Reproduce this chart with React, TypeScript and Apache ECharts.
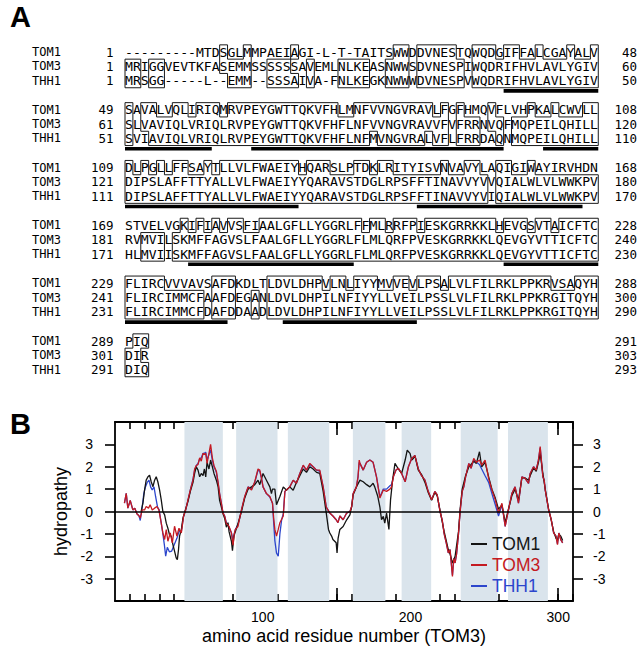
import React, { useEffect, useRef } from 'react';
import * as echarts from 'echarts';

// ---------- Panel A data ----------
const proteinNames = ['TOM1', 'TOM3', 'THH1'];

const tom1Lines = [
  '---------MTDSGLMMPAEIAGI-L-T-TAITSWWDDVNESTQWQDGIFFALCGAYALV',
  'SAVALVQLIRIQMRVPEYGWTTQKVFHLMNFVVNGVRAVLFGFHMQVFLVHPKALCWVLL',
  'DLPGLLFFSAYTLLVLFWAEIYHQARSLPTDKLRITYISVNVAVYLAQIGIWAYIRVHDN',
  'STVELVGKIFIAVVSFIAALGFLLYGGRLFFMLRRFPIESKGRRKKLHEVGSVTAICFTC',
  'FLIRCVVVAVSAFDKDLTLDVLDHPVLNLIYYMVVEVLPSALVLFILRKLPPKRVSAQYH',
  'PIQ',
];
const tom3Lines = [
  'MRIGGVEVTKFASEMMSSSSSSAVEMLNLKEASNWWSDVNESPIWQDRIFHVLAVLYGIV',
  'SLVAVIQLVRIQLRVPEYGWTTQKVFHFLNFVVNGVRAVVFVFRRNVQFMQPEILQHILL',
  'DIPSLAFFTTYALLVLFWAEIYYQARAVSTDGLRPSFFTINAVVYVVQIALWLVLWWKPV',
  'RVMVILSKMFFAGVSLFAALGFLLYGGRLFLMLQRFPVESKGRRKKLQEVGYVTTICFTC',
  'FLIRCIMMCFAAFDEGANLDVLDHPILNFIYYLLVEILPSSLVLFILRKLPPKRGITQYH',
  'DIR',
];
const thh1Lines = [
  'MRSGG-----L--EMM--SSSAIVA-FNLKEGKNWWWDVNESPVWQDRIFHVLAVLYGIV',
  'SVIAVIQLVRIQLRVPEYGWTTQKVFHFLNFMVNGVRALVFLFRRDAQNMQPEILQHILL',
  'DIPSLAFFTTYALLVLFWAEIYYQARAVSTDGLRPSFFTINAVVYVIQIALWLVLWWKPV',
  'HLMVIISKMFFAGVSLFAALGFLLYGGRLFLMLQRFPVESKGRRKKLQEVGYVTTICFTC',
  'FLIRCIMMCFDAFDDAADLDVLDHPILNFIYYLLVEILPSSLVLFILRKLPPKRGITQYH',
  'DIQ',
];
const startNums = [
  [1, 49, 109, 169, 229, 289],
  [1, 61, 121, 181, 241, 301],
  [1, 51, 111, 171, 231, 291],
];
const endNums = [
  [48, 108, 168, 228, 288, 291],
  [60, 120, 180, 240, 300, 303],
  [50, 110, 170, 230, 290, 293],
];
// underlined column runs (inclusive) per block
const underlineRuns = [
  [[48, 59]],
  [[0, 10], [16, 47], [53, 59]],
  [[0, 21], [37, 57]],
  [[8, 28], [48, 59]],
  [[0, 12], [20, 36]],
  [],
];

// ---------- Panel B data ----------
const bands = [[47, 73], [82, 110], [117, 145], [161, 183], [194, 214], [234, 259], [266, 293]];
const xMinorTicks = [10, 20, 30, 40, 50, 60, 70, 80, 90, 100, 110, 120, 130, 140, 150, 160, 170, 180, 190, 200, 210, 220, 230, 240, 250, 260, 270, 280, 290, 300, 310];
const xMajorTicks = [50, 100, 150, 200, 250, 300];
const xLabelValues = [100, 200, 300];
const yTickValues = [-3, -2, -1, 0, 1, 2, 3];

const tom1 = [
  [17.7, 0.0], [18.9, 0.37], [20, 0.96], [21.1, 1.4], [22.3, 1.55], [23.4, 1.62], [24.5, 1.33], [25.7, 1.11], [26.8, 1.4], [27.9, 1.55], [29, 1.33], [30.2, 0.96], [31.3, 0.52], [32.4, 0.0], [33.6, -0.15], [34.7, -0.52], [35.8, -0.75], [36.9, -1.04], [38.1, -1.11], [39.2, -1.48], [40.3, -1.77], [41.4, -2.07], [42.2, -2.15], [43, -1.7], [43.7, -1.1], [44.9, -0.81], [46, -0.3],
  [47.8, 0.1], [49.4, 0.45], [51, 0.9], [52.8, 1.3], [53.9, 1.7], [55, 2.0], [56.2, 1.85], [57.3, 1.55], [58.4, 1.7], [59.6, 1.6], [60.5, 1.9], [61.4, 1.55], [62.3, 2.2], [63.6, 1.9], [64.7, 2.3], [65.9, 2.0], [67, 1.7], [68.6, 1.4], [69.8, 1.1], [70.8, 0.5], [72, 0.2], [73.1, -0.1], [74.2, -0.3], [75.4, -0.7], [76.5, -0.5], [77.2, -0.9], [78.8, -1.33], [79.5, -1.75], [80.5, -1.1], [81.5, -0.9], [83.2, -0.55], [85.6, 0.0], [87.8, 0.6], [90.1, 1.0], [92.4, 1.1], [94.6, 1.2], [96.8, 1.4], [98, 1.2], [100.2, 1.7], [102.5, 1.4], [104.8, 1.1], [105.9, 0.8], [106.6, 1.0], [108.2, 1.0], [109.3, 0.3], [111.6, 0.67], [113.9, 1.1], [116.1, 0.95], [118.3, 1.1], [120.6, 0.95], [122.8, 1.3], [125.1, 1.6], [127.4, 1.9], [129.6, 1.75], [131.9, 2.0], [134.1, 1.9], [136.4, 1.75], [138.6, 1.7], [140.9, 0.9], [143, -0.07], [144.5, -0.8], [145.4, -0.96], [146.6, -1.1], [147.5, -1.25], [149.7, -1.4], [150.3, -1.85], [151, -1.2], [152.2, -0.8], [154.4, -0.67], [156.8, -0.37], [159, -0.15], [160.2, 0.22], [161.2, 0.75], [163.4, 1.1], [165.8, 1.4], [168, 1.33], [170.3, 1.2], [172.5, 1.1], [174.7, 1.26], [175.8, 1.1], [177.9, 0.67], [179.3, 0.2], [180.4, -0.37], [181.6, -0.22], [182.6, -0.52], [183.8, -0.07], [185.4, -0.8], [186.5, 0.52], [187.9, 1.4], [189.5, 2.15], [191.8, 1.9], [194, 1.7], [196.4, 2.3], [197.8, 2.74], [199.7, 2.6], [200.8, 2.3], [201.9, 2.37], [203, 2.5], [205.3, 1.85], [207.5, 1.65], [209.8, 1.3], [212, 0.85], [214.3, 0.5], [216.5, 0.85], [218.1, 0.7], [220, 0.05], [222.8, -0.9], [225.6, -1.7], [226.8, -1.9], [228.4, -2.3], [230.2, -2.0], [232.5, -0.9], [233.6, 0.1], [235, 1.0], [237.3, 1.6], [239.5, 2.0], [241, 2.1], [242.8, 2.25], [244.6, 2.15], [246.7, 2.67], [248.2, 2.0], [250.5, 2.2], [252.9, 1.55], [255.1, 1.0], [257.4, 0.6], [259.6, 0.1], [261.9, 0.3], [264.1, -0.5], [266.3, 0.1], [268.6, 0.7], [270.8, 1.0], [273.1, 0.5], [275.4, 1.5], [277.6, 1.5], [279.9, 1.4], [281, 1.6], [283.3, 1.95], [285.1, 1.8], [286.6, 2.2], [287.8, 2.6], [289.6, 1.7], [291.2, 1.0], [293.5, 0.1], [295.3, -0.4], [296.9, -0.9], [298.5, -1.2], [299.5, -1.3], [300.4, -1.0], [301.7, -1.1], [303, -1.3],
];

const tom3 = [
  [6.4, 0.37], [7.6, 0.81], [8.7, 0.15], [10.3, 0.49], [12.1, 0.07], [13.4, 0.15], [14.8, -0.1], [16.2, -0.19], [17.1, -0.29], [18.4, 0.07], [20, 0.07], [21.1, 0.22], [22.7, 0.15], [23.8, 0.3], [25.2, 0.07], [26.8, 0.15], [28.4, 0.22], [29.7, 0.07], [31.3, -0.52], [32.4, -0.96], [33.6, -1.25], [34.7, -0.81], [35.8, -1.33], [37.4, -0.96], [38.8, -1.4], [40.3, -0.66], [41.9, -1.1], [43.3, -0.75], [44.9, -0.96], [46.4, -0.22],
  [47.8, 0.07], [49.4, 0.52], [51, 0.96], [52.8, 1.4], [53.9, 1.9], [55, 2.05], [56.2, 2.1], [57.3, 2.4], [58.4, 2.25], [59.6, 2.6], [60.5, 2.55], [61.4, 2.6], [62.3, 2.15], [63.6, 2.6], [64.7, 3.0], [65.9, 2.4], [67, 2.05], [68.6, 1.8], [69.8, 1.3], [70.8, 0.8], [72, 0.37], [73.1, -0.07], [74.2, -0.2], [75.4, -0.55], [76.5, -0.6], [77.2, -0.67], [78.8, -0.96], [79.9, -1.5], [80.7, -1.0], [81.5, -0.8], [83.2, -0.67], [84.4, -0.3], [85.6, 0.07], [87.8, 0.67], [90.1, 1.1], [92.4, 0.96], [94.6, 1.33], [96.8, 1.9], [98, 1.85], [99.1, 1.5], [100.2, 1.1], [102.5, 0.8], [104.8, 0.67], [106.6, 0.37], [107.4, -0.3], [108.2, -0.8], [109.3, -1.1], [110.5, -0.8], [111.6, -0.5], [113.9, -0.2], [115, 0.9], [116.6, 1.0], [118.3, 1.1], [120.6, 1.4], [122.8, 1.26], [125.1, 1.7], [127.4, 2.07], [129.6, 1.85], [131.9, 2.15], [134.1, 2.0], [136.4, 1.85], [138.6, 1.85], [140.9, 1.1], [143, 0.2], [145.4, -0.07], [147.5, -0.2], [149.7, -0.37], [150.9, -0.5], [152.2, -0.2], [154.4, -0.37], [156.8, -0.07], [159, 0.0], [160.2, 0.22], [161.2, 0.8], [163.4, 1.1], [164.5, 1.55], [165.3, 2.3], [165.8, 2.15], [168, 1.85], [170.3, 2.2], [172.5, 2.3], [174.7, 2.2], [177, 1.55], [179.3, 0.6], [181.6, 0.96], [183.8, 0.9], [186.1, 1.0], [187.2, 1.1], [188.4, 1.55], [190.2, 1.85], [191.8, 1.93], [194, 1.7], [196.4, 1.33], [198.6, 2.0], [200.8, 2.37], [203, 2.5], [205.3, 1.9], [207.5, 1.6], [209.8, 1.4], [212, 0.9], [214.3, 0.52], [216.5, 0.9], [218.1, 0.74], [220, 0.0], [221.5, -0.4], [222.8, -1.0], [224.2, -1.4], [225.6, -1.85], [226.8, -1.7], [227.6, -2.3], [228.4, -2.9], [229.3, -2.1], [230.2, -2.3], [231.2, -1.9], [232.5, -1.0], [233.6, 0.0], [235, 0.9], [236.1, 1.1], [237.3, 1.55], [239.5, 2.15], [241, 1.93], [242.8, 2.37], [244.6, 2.2], [246.7, 2.3], [248.2, 2.07], [250.5, 2.3], [252.9, 1.48], [255.1, 0.96], [257.4, 0.52], [259.6, -0.07], [261.9, 0.37], [264.1, -0.67], [266.3, 0.07], [268.6, 0.8], [270.8, 1.1], [273.1, 0.37], [275.4, 1.55], [277.6, 1.48], [279.9, 1.26], [281, 1.7], [283.3, 2.0], [285.1, 1.85], [286.6, 2.3], [287.8, 2.9], [289.6, 1.55], [290.5, 1.4], [291.2, 0.96], [293.5, 0.07], [295.3, -0.37], [296.9, -0.96], [298.5, -1.1], [299.5, -1.48], [300.4, -0.96], [301.7, -1.26], [303, -1.4],
];

const thh1 = [
  [6.4, 0.37], [7.6, 0.81], [8.7, 0.15], [10.3, 0.49], [12.1, 0.07], [13.4, 0.15], [14.8, -0.1], [16.2, -0.19], [17.1, -0.4], [18.4, 0.2], [19.5, 0.8], [20.6, 1.1], [21.8, 1.3], [23, 1.4], [24.1, 1.1], [25.2, 0.96], [26.4, 1.1], [27.5, 0.66], [28.8, 0.2], [29.9, 0.07], [31.3, -0.52], [32.4, -1.0], [33.4, -1.48], [34.3, -2.0], [35.4, -1.6], [36.8, -1.8], [38.4, -1.77], [40, -1.5], [41.9, -1.2], [43.3, -0.9], [44.9, -0.9], [46.4, -0.22],
  [47.8, 0.07], [49.4, 0.5], [51, 0.96], [52.8, 1.45], [53.9, 1.85], [55, 2.05], [56.2, 2.15], [57.3, 2.35], [58.4, 2.4], [59.6, 2.6], [60.5, 2.6], [61.4, 2.65], [62.3, 2.3], [63.6, 2.55], [64.7, 2.75], [65.9, 2.3], [67, 2.0], [68.6, 1.75], [69.8, 1.25], [70.8, 0.8], [72, 0.35], [73.1, -0.05], [74.2, -0.2], [75.4, -0.5], [76.5, -0.6], [77.2, -0.7], [78.8, -0.95], [79.9, -1.3], [80.7, -1.0], [81.5, -0.8], [83.2, -0.6], [84.4, -0.3], [85.6, 0.07], [87.8, 0.65], [90.1, 1.1], [92.4, 1.0], [94.6, 1.3], [96.8, 1.85], [98, 1.8], [99.1, 1.5], [100.2, 1.1], [102.5, 0.8], [104.8, 0.65], [106.6, 0.37], [107.5, -0.6], [108.2, -1.3], [109.3, -1.85], [110.5, -2.0], [111.6, -1.0], [112.8, -0.37], [113.9, -0.1], [115, 0.9], [116.6, 1.0], [118.3, 1.1], [120.6, 1.4], [122.8, 1.26], [125.1, 1.7], [127.4, 2.05], [129.6, 1.85], [131.9, 2.1], [134.1, 2.0], [136.4, 1.85], [138.6, 1.8], [140.9, 1.1], [143, 0.2], [145.4, -0.07], [147.5, -0.2], [149.7, -0.37], [150.9, -0.5], [152.2, -0.2], [154.4, -0.37], [156.8, -0.07], [159, 0.0], [160.2, 0.22], [161.2, 0.8], [163.4, 1.1], [164.5, 1.55], [165.3, 2.2], [165.8, 2.15], [168, 1.85], [170.3, 2.2], [172.5, 2.3], [174.7, 2.2], [177, 1.55], [179.3, 0.65], [181.6, 1.0], [183.8, 1.0], [186.1, 1.15], [187.2, 1.2], [188.4, 1.55], [190.2, 1.85], [191.8, 1.93], [194, 1.7], [196.4, 1.33], [198.6, 2.0], [200.8, 2.37], [203, 2.5], [205.3, 1.9], [207.5, 1.6], [209.8, 1.4], [212, 0.9], [214.3, 0.52], [216.5, 0.9], [218.1, 0.74], [220, 0.0], [221.5, -0.4], [222.8, -1.0], [224.2, -1.4], [225.6, -1.85], [226.8, -1.7], [227.6, -2.3], [228.4, -2.85], [229.3, -2.1], [230.2, -2.3], [231.2, -1.9], [232.5, -1.0], [233.6, 0.0], [235, 0.9], [236.1, 1.1], [237.3, 1.55], [239.5, 2.15], [241, 1.93], [242.8, 2.3], [244.6, 2.2], [246.7, 2.1], [248.2, 1.9], [250.5, 1.6], [252.9, 1.3], [255.1, 0.8], [257.4, 0.3], [259.6, -0.2], [261.9, 0.3], [264.1, -0.67], [266.3, 0.07], [268.6, 0.8], [270.8, 1.1], [273.1, 0.37], [275.4, 1.55], [277.6, 1.48], [279.9, 1.26], [281, 1.7], [283.3, 2.0], [285.1, 1.85], [286.6, 2.3], [287.8, 2.85], [289.6, 1.55], [290.5, 1.4], [291.2, 0.96], [293.5, 0.07], [295.3, -0.37], [296.9, -0.96], [298.5, -1.1], [299.5, -1.45], [300.4, -0.96], [301.7, -1.26], [303, -1.4],
];

// ---------- styling ----------
const MONO = '"DejaVu Sans Mono", "Liberation Mono", monospace';
const SANS = '"Liberation Sans", Arial, Helvetica, sans-serif';
const BLACK = '#141414';
const RED = '#c41a22';
const BLUE = '#2c46cc';
const BAND = '#dae4ec';

const CW = 7.888;
const X0 = 125;
const ROW_H = 14.3;
const BLOCK_Y0 = 52;
const BLOCK_DY = 57.8;

function txt(text: string, x: number, y: number, size: number, family: string, align: string, extra: any = {}) {
  return {
    type: 'text',
    x,
    y,
    silent: true,
    style: {
      text,
      fontSize: size,
      fontFamily: family,
      fill: '#000',
      textAlign: align,
      align,
      textVerticalAlign: 'middle',
      verticalAlign: 'middle',
      ...extra,
    },
  };
}

function boxSegments(rows: string[], yTop: number) {
  const n = Math.max(...rows.map((s) => s.length));
  const ch = (r: number, c: number) => (rows[r] && rows[r][c]) || '-';
  const marked = (r: number, c: number) => {
    if (r < 0 || r > 2 || c < 0 || c >= n) return false;
    const k = ch(r, c);
    if (k === '-') return false;
    for (let o = 0; o < 3; o++) if (o !== r && ch(o, c) === k) return true;
    return false;
  };
  const segs: number[][] = [];
  for (let b = 0; b <= 3; b++) {
    let start = -1;
    for (let c = 0; c <= n; c++) {
      let need = false;
      if (c < n) {
        const a = marked(b - 1, c);
        const d = marked(b, c);
        need = (a || d) && !(a && d && ch(b - 1, c) === ch(b, c));
      }
      if (need && start < 0) start = c;
      if (!need && start >= 0) {
        segs.push([X0 + start * CW, yTop + b * ROW_H, X0 + c * CW, yTop + b * ROW_H]);
        start = -1;
      }
    }
  }
  for (let c = 0; c <= n; c++) {
    let start = -1;
    for (let r = 0; r <= 3; r++) {
      let need = false;
      if (r < 3) need = marked(r, c - 1) !== marked(r, c);
      if (need && start < 0) start = r;
      if (!need && start >= 0) {
        segs.push([X0 + c * CW, yTop + start * ROW_H, X0 + c * CW, yTop + r * ROW_H]);
        start = -1;
      }
    }
  }
  return segs;
}

function buildPanelA() {
  const els: any[] = [];
  els.push(txt('A', 10, 17, 29, SANS, 'left', { fontWeight: 'bold' }));
  els.push(txt('B', 10, 424, 29, SANS, 'left', { fontWeight: 'bold' }));
  const all = [tom1Lines, tom3Lines, thh1Lines];
  for (let b = 0; b < tom1Lines.length; b++) {
    const y0 = BLOCK_Y0 + b * BLOCK_DY;
    const rows = all.map((l) => l[b]);
    for (let r = 0; r < 3; r++) {
      const y = y0 + r * ROW_H;
      els.push(txt(proteinNames[r], 32, y, 12, MONO, 'left'));
      els.push(txt(String(startNums[r][b]), 113.5, y, 12.5, MONO, 'right'));
      els.push(txt(rows[r], X0, y, 13.1, MONO, 'left'));
      els.push(txt(String(endNums[r][b]), 637, y, 12.5, MONO, 'right'));
    }
    const segs = boxSegments(rows, y0 - ROW_H / 2);
    segs.forEach((s) => {
      els.push({
        type: 'line',
        silent: true,
        shape: { x1: s[0], y1: s[1], x2: s[2], y2: s[3] },
        style: { stroke: '#1a1a1a', lineWidth: 1 },
      });
    });
    const uy = y0 + 2 * ROW_H + 10.3;
    underlineRuns[b].forEach((run) => {
      els.push({
        type: 'rect',
        silent: true,
        shape: { x: X0 + run[0] * CW, y: uy - 1.8, width: (run[1] - run[0] + 1) * CW, height: 3.6 },
        style: { fill: '#000' },
      });
    });
  }
  return els;
}

function xAxisDef(position: string, major: boolean, withLabels: boolean, extra: any = {}) {
  return {
    type: 'value',
    min: 0,
    max: 310,
    position,
    axisLine: { show: !major, onZero: false, lineStyle: { color: '#000', width: 1.8 } },
    axisTick: {
      show: true,
      inside: true,
      length: major ? 13 : 7,
      customValues: major ? xMajorTicks : xMinorTicks,
      lineStyle: { color: '#000', width: 1.6 },
    },
    axisLabel: withLabels
      ? { show: true, customValues: xLabelValues, fontSize: 14, fontFamily: SANS, color: '#000', margin: 9 }
      : { show: false },
    splitLine: { show: false },
    ...extra,
  };
}

function yAxisDef(position: string, extra: any = {}) {
  return {
    type: 'value',
    min: -4,
    max: 4,
    position,
    axisLine: { show: true, onZero: false, lineStyle: { color: '#000', width: 1.8 } },
    axisTick: { show: true, inside: false, length: 10, customValues: yTickValues, lineStyle: { color: '#000', width: 1.6 } },
    axisLabel: { show: true, customValues: yTickValues, fontSize: 14, fontFamily: SANS, color: '#000', margin: position === 'left' ? 22 : 20 },
    splitLine: { show: false },
    ...extra,
  };
}

export default function App() {
  const ref = useRef<HTMLDivElement>(null);
  useEffect(() => {
    if (!ref.current) return;
    const chart = echarts.init(ref.current, null, { renderer: 'svg' });
    const option: any = {
      animation: false,
      backgroundColor: '#ffffff',
      grid: { left: 115, top: 422, width: 458, height: 179, containLabel: false },
      xAxis: [
        xAxisDef('bottom', false, true, {
          name: 'amino acid residue number (TOM3)',
          nameLocation: 'middle',
          nameGap: 26,
          nameTextStyle: { fontSize: 18, fontFamily: SANS, color: '#000' },
        }),
        xAxisDef('bottom', true, false),
        xAxisDef('top', false, false),
        xAxisDef('top', true, false),
      ],
      yAxis: [
        yAxisDef('left', {
          name: 'hydropathy',
          nameLocation: 'middle',
          nameRotate: 90,
          nameGap: 42,
          nameTextStyle: { fontSize: 18, fontFamily: SANS, color: '#000' },
        }),
        yAxisDef('right'),
      ],
      legend: {
        orient: 'vertical',
        left: 466,
        top: 530,
        itemWidth: 16,
        itemHeight: 2,
        itemGap: 3,
        icon: 'rect',
        selectedMode: false,
        textStyle: { fontSize: 17.5, fontFamily: SANS },
        data: [
          { name: 'TOM1', textStyle: { color: BLACK } },
          { name: 'TOM3', textStyle: { color: RED } },
          { name: 'THH1', textStyle: { color: BLUE } },
        ],
      },
      series: [
        {
          name: 'THH1',
          type: 'line',
          data: thh1,
          xAxisIndex: 0,
          yAxisIndex: 0,
          symbol: 'none',
          showSymbol: false,
          lineStyle: { color: BLUE, width: 1.3 },
          itemStyle: { color: BLUE },
          markArea: {
            silent: true,
            itemStyle: { color: BAND },
            data: bands.map((b) => [{ xAxis: b[0] }, { xAxis: b[1] }]),
          },
        },
        {
          name: 'TOM1',
          type: 'line',
          data: tom1,
          xAxisIndex: 0,
          yAxisIndex: 0,
          symbol: 'none',
          showSymbol: false,
          lineStyle: { color: BLACK, width: 1.3 },
          itemStyle: { color: BLACK },
        },
        {
          name: 'TOM3',
          type: 'line',
          data: tom3,
          xAxisIndex: 0,
          yAxisIndex: 0,
          symbol: 'none',
          showSymbol: false,
          lineStyle: { color: RED, width: 1.3 },
          itemStyle: { color: RED },
          markLine: {
            silent: true,
            symbol: ['none', 'none'],
            label: { show: false },
            lineStyle: { color: '#000', width: 1.5, type: 'solid' },
            data: [{ yAxis: 0 }],
          },
        },
      ],
      graphic: buildPanelA(),
    };
    chart.setOption(option);
    return () => chart.dispose();
  }, []);
  return (
    <div
      ref={ref}
      style={{ position: 'absolute', left: 0, top: 0, width: 644, height: 654, background: '#fff' }}
    />
  );
}
